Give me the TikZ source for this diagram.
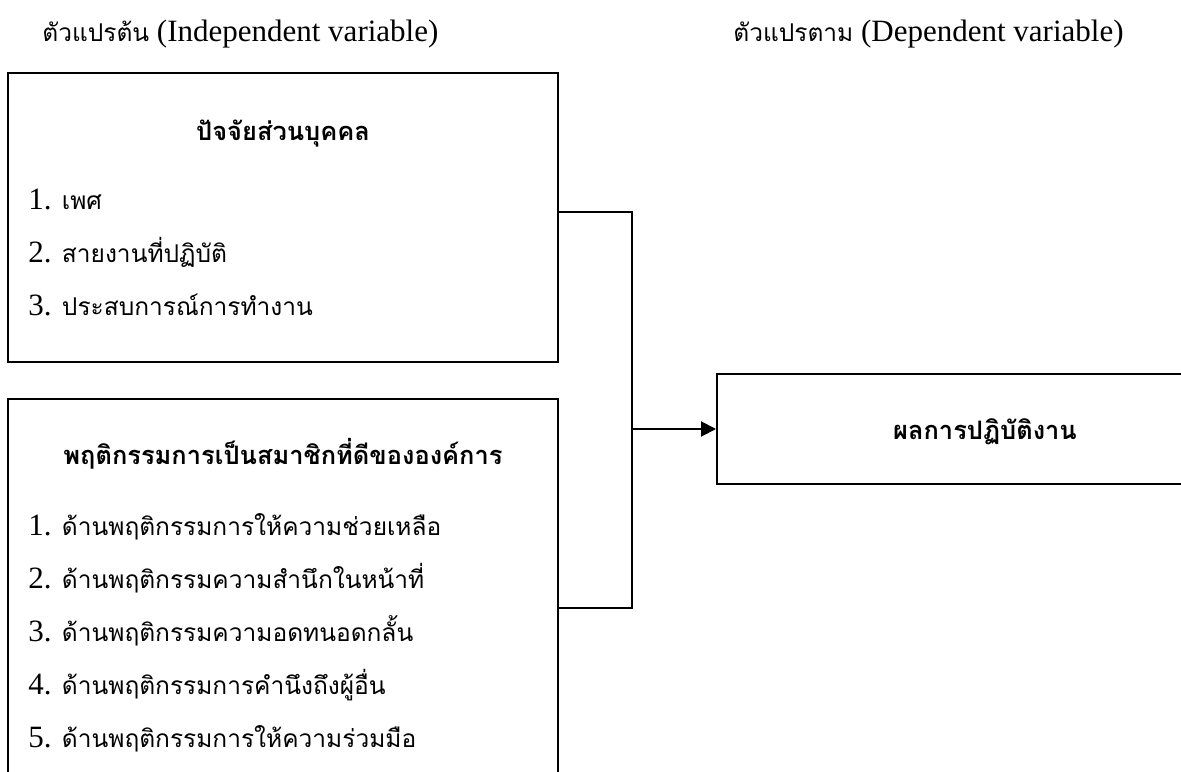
\documentclass[tikz,border=0pt]{standalone}
\usepackage{fontspec}
\setmainfont{Liberation Serif}
\newfontfamily\thaifont[Script=Thai,Scale=0.79,BoldFeatures={Scale=0.82}]{Loma}
\newcommand\tha[1]{{\thaifont #1}}
\usetikzlibrary{arrows.meta}
\begin{document}
\begin{tikzpicture}[x=0.5pt,y=-0.5pt,
  box/.style={draw, line width=1pt, inner sep=0pt},
  txt/.style={inner sep=0pt, anchor=base west, font=\fontsize{15.5}{18}\selectfont},
  head/.style={inner sep=0pt, anchor=base, font=\fontsize{15.5}{18}\selectfont\bfseries},
  link/.style={line width=1pt},
  ]
\useasboundingbox (0,0) rectangle (1181,771);
\clip (0,0) rectangle (1181,771);
% titles
\node[txt] (tl) at (42,41) {\tha{ตัวแปรต้น} (Independent variable)};
\node[txt, anchor=base east] (tr) at (1124,41) {\tha{ตัวแปรตาม} (Dependent variable)};
% boxes
\node[box, minimum width=275pt, minimum height=144.5pt] (pbox) at (283,217.5) {};
\node[box, minimum width=275pt, minimum height=200.5pt] (bbox) at (283,599.5) {};
\node[box, minimum width=241.5pt, minimum height=55pt] (rbox) at (958.5,429) {};
% top box text
\node[head] (ph) at (283,140) {\tha{ปัจจัยส่วนบุคคล}};
\node[txt] (p1) at (28,209) {1. \tha{เพศ}};
\node[txt] (p2) at (28,262) {2. \tha{สายงานที่ปฏิบัติ}};
\node[txt] (p3) at (28,315) {3. \tha{ประสบการณ์การทำงาน}};
% bottom box text
\node[head] (bh) at (283,464) {\tha{พฤติกรรมการเป็นสมาชิกที่ดีขององค์การ}};
\node[txt] (b1) at (28,535) {1. \tha{ด้านพฤติกรรมการให้ความช่วยเหลือ}};
\node[txt] (b2) at (28,588) {2. \tha{ด้านพฤติกรรมความสำนึกในหน้าที่}};
\node[txt] (b3) at (28,641) {3. \tha{ด้านพฤติกรรมความอดทนอดกลั้น}};
\node[txt] (b4) at (28,694) {4. \tha{ด้านพฤติกรรมการคำนึงถึงผู้อื่น}};
\node[txt] (b5) at (28,747) {5. \tha{ด้านพฤติกรรมการให้ความร่วมมือ}};
% right box text
\node[head] (rh) at (985,439) {\tha{ผลการปฏิบัติงาน}};
% connectors
\coordinate (jn) at (632,429);
\draw[link] ([yshift=2.75pt]pbox.east) -| (jn);
\draw[link] ([yshift=-4.25pt]bbox.east) -| (jn);
\draw[link, -{Triangle[length=7.5pt,width=7.5pt]}] (jn) -- (rbox.west);
\end{tikzpicture}
\end{document}
